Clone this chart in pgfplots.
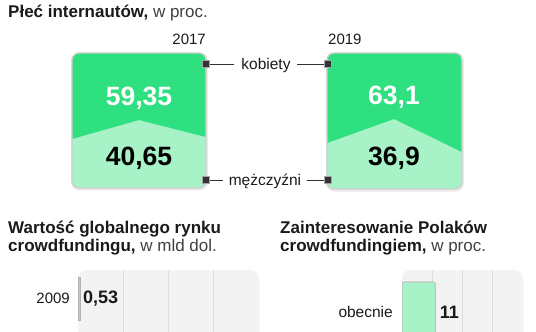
\documentclass[border=0pt]{standalone}
\usepackage{pgfplots}
\pgfplotsset{compat=1.18}
\usepackage{fontspec}
\setmainfont{Liberation Sans}
\definecolor{dg}{HTML}{2EE07F}
\definecolor{lg}{HTML}{A8F2C8}
\definecolor{panel}{HTML}{F3F3F3}
\definecolor{gridc}{HTML}{DCDCDC}
\definecolor{boxb}{HTML}{CFCFCF}
\definecolor{mk}{HTML}{333333}
\definecolor{txt}{HTML}{1A1A1A}
\definecolor{sub}{HTML}{404040}
\definecolor{bargrey}{HTML}{C4C4C4}
\newcommand{\fs}[1]{\fontsize{#1}{#1}\selectfont}
\begin{document}
\begin{tikzpicture}
\begin{axis}[at={(0pt,0pt)},anchor=south west,width=536pt,height=332pt,scale only axis,
  xmin=0,xmax=536,ymin=0,ymax=332,y dir=reverse,hide axis]
% titles
\node[anchor=base west,inner sep=0pt,text=txt] at (axis cs:8,17.5) {\fs{17}{\bfseries Płeć internautów,}\ {\color{sub}w proc.}};
\node[anchor=base west,inner sep=0pt,text=txt] at (axis cs:8,233) {\fs{17}\bfseries Wartość globalnego rynku};
\node[anchor=base west,inner sep=0pt,text=txt] at (axis cs:8,251.5) {\fs{17}{\bfseries crowdfundingu,}\ {\color{sub}w mld dol.}};
\node[anchor=base west,inner sep=0pt,text=txt] at (axis cs:280,233) {\fs{17}\bfseries Zainteresowanie Polaków};
\node[anchor=base west,inner sep=0pt,text=txt] at (axis cs:280,251.5) {\fs{17}{\bfseries crowdfundingiem,}\ {\color{sub}w proc.}};
% years
\node[anchor=base east,inner sep=0pt,text=txt] at (axis cs:206,44) {\fs{15}2017};
\node[anchor=base west,inner sep=0pt,text=txt] at (axis cs:328,44) {\fs{15}2019};
% box shadows and fills
\draw[black!8,line width=3pt,rounded corners=7pt] (axis cs:72.5,54) rectangle (axis cs:206.5,189);
\draw[black!8,line width=3pt,rounded corners=7pt] (axis cs:327.5,54) rectangle (axis cs:462.5,190);
\begin{scope}
\clip[rounded corners=7pt] (axis cs:72,53) rectangle (axis cs:206,188);
\addplot[fill=lg,draw=none] coordinates {(72,53) (206,53) (206,188) (72,188)};
\addplot[fill=dg,draw=none] coordinates {(72,53) (206,53) (206,137) (139,120) (72,139)};
\end{scope}
\begin{scope}
\clip[rounded corners=7pt] (axis cs:327,53) rectangle (axis cs:462,189);
\addplot[fill=lg,draw=none] coordinates {(327,53) (462,53) (462,189) (327,189)};
\addplot[fill=dg,draw=none] coordinates {(327,53) (462,53) (462,152) (394,119) (327,143)};
\end{scope}
\draw[boxb,line width=1.3pt,rounded corners=7pt] (axis cs:72,53) rectangle (axis cs:206,188);
\draw[boxb,line width=1.3pt,rounded corners=7pt] (axis cs:327,53) rectangle (axis cs:462,189);
% values in boxes
\node[anchor=base,inner sep=0pt,text=white] at (axis cs:139,105) {\fs{26.5}\bfseries 59,35};
\node[anchor=base,inner sep=0pt,text=black] at (axis cs:139,165) {\fs{26.5}\bfseries 40,65};
\node[anchor=base,inner sep=0pt,text=white] at (axis cs:394,104) {\fs{26.5}\bfseries 63,1};
\node[anchor=base,inner sep=0pt,text=black] at (axis cs:394,165) {\fs{26.5}\bfseries 36,9};
% legend connectors
\addplot[mk,line width=0.7pt] coordinates {(206,64) (234,64)};
\addplot[mk,line width=0.7pt] coordinates {(297,64) (328,64)};
\addplot[mk,line width=0.7pt] coordinates {(206,180) (223,180)};
\addplot[mk,line width=0.7pt] coordinates {(307,180) (328,180)};
\addplot[only marks,mark=square*,mark size=3.6pt,mark options={fill=mk,draw=black!35,line width=0.9pt}]
  coordinates {(206,64) (206,180) (328,64) (328,180)};
\node[anchor=base,inner sep=0pt,text=txt] at (axis cs:266,69.5) {\fs{15.5}kobiety};
\node[anchor=base,inner sep=0pt,text=txt] at (axis cs:265,185) {\fs{15.5}mężczyźni};
% panels
\fill[panel,rounded corners=8pt] (axis cs:78,270) rectangle (axis cs:259,360);
\fill[panel,rounded corners=8pt] (axis cs:402,270) rectangle (axis cs:523,360);
% category labels
\node[anchor=base east,inner sep=0pt,text=txt] at (axis cs:70,303.5) {\fs{15}2009};
\node[anchor=base east,inner sep=0pt,text=txt] at (axis cs:393,317.5) {\fs{15.5}obecnie};
\end{axis}
% left bar chart
\begin{axis}[at={(78pt,0pt)},anchor=south west,width=181pt,height=62pt,scale only axis,
  xmin=0,xmax=40,ymin=270,ymax=332,y dir=reverse,
  axis line style={draw=none},xtick={10,20,30},xticklabels={},ytick=\empty,
  major tick length=0pt,xmajorgrids,grid style={gridc,line width=1pt},
  xbar,bar width=43pt,
  nodes near coords,point meta=explicit symbolic,
  nodes near coords style={anchor=west,xshift=2.5pt,font=\fs{18}\bfseries,text=txt,inner sep=0pt}]
\addplot[fill=bargrey,draw=black!30,line width=0.5pt] coordinates {(0.53,298.5) [0,53]};
\end{axis}
% right bar chart
\begin{axis}[at={(402pt,0pt)},anchor=south west,width=121pt,height=62pt,scale only axis,
  xmin=0,xmax=40,ymin=270,ymax=332,y dir=reverse,
  axis line style={draw=none},xtick={10,20,30},xticklabels={},ytick=\empty,
  major tick length=0pt,xmajorgrids,grid style={gridc,line width=1pt},
  xbar,bar width=60pt,
  nodes near coords,point meta=explicit symbolic,
  nodes near coords style={anchor=west,xshift=4pt,font=\fs{18}\bfseries,text=txt,inner sep=0pt}]
\addplot[fill=lg,draw=black!25,line width=1pt,rounded corners=2pt] coordinates {(11,312) [11]};
\end{axis}
\pgfresetboundingbox
\useasboundingbox (0pt,0pt) rectangle (536pt,332pt);
\end{tikzpicture}
\end{document}
